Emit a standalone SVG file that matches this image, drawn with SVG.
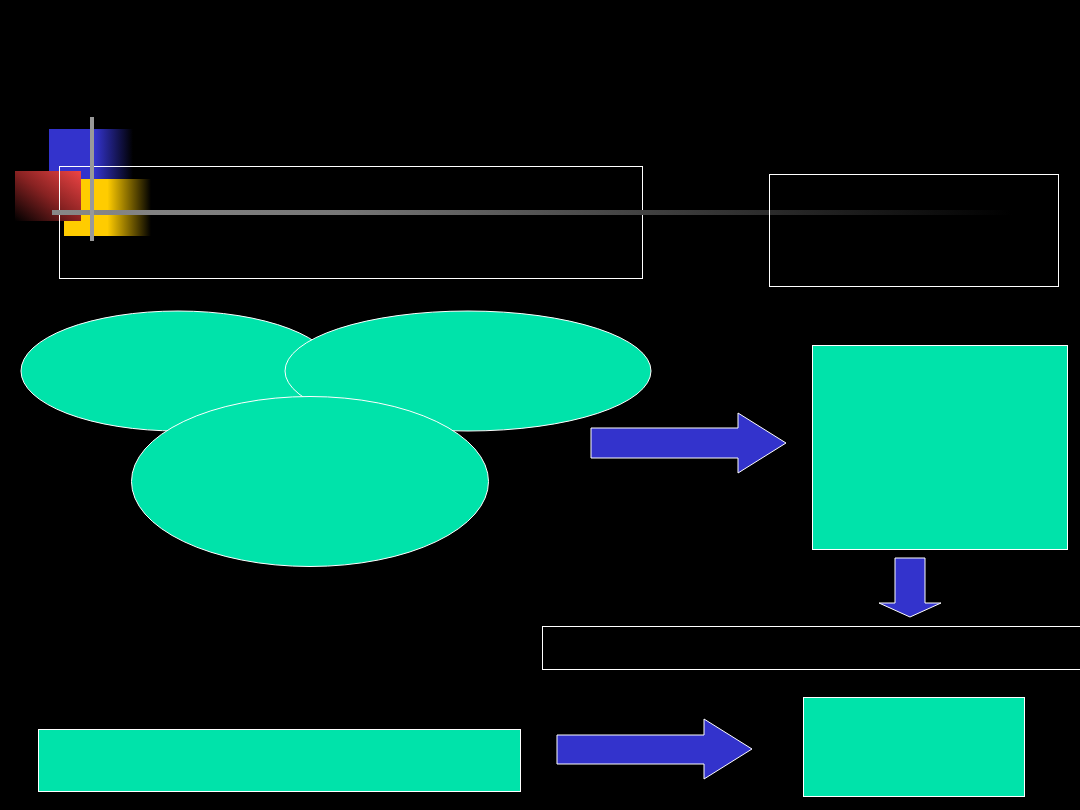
<svg xmlns="http://www.w3.org/2000/svg" width="1080" height="810" viewBox="0 0 1080 810">
<style>
.box{fill:none;stroke:#ffffff;stroke-width:1}
.shape{fill:#00E3AA;stroke:#ffffff;stroke-width:1}
.arrow{fill:#3333CC;stroke:#ffffff;stroke-width:1}
</style>
<defs>
<linearGradient id="gBlue" x1="0" y1="0" x2="1" y2="0">
<stop offset="0" stop-color="#3333CC"/><stop offset="0.55" stop-color="#3333CC"/><stop offset="1" stop-color="#000000"/>
</linearGradient>
<linearGradient id="gYellow" x1="0" y1="0" x2="1" y2="0">
<stop offset="0" stop-color="#FFCC00"/><stop offset="0.5" stop-color="#FFCC00"/><stop offset="1" stop-color="#000000"/>
</linearGradient>
<linearGradient id="gRed" x1="1" y1="0" x2="0" y2="1">
<stop offset="0" stop-color="#EE4444"/><stop offset="0.5" stop-color="#882222"/><stop offset="1" stop-color="#000000"/>
</linearGradient>
<linearGradient id="gLine" x1="0" y1="0" x2="1" y2="0">
<stop offset="0" stop-color="#888888"/><stop offset="0.3" stop-color="#777777"/><stop offset="1" stop-color="#000000"/>
</linearGradient>
</defs>
<rect width="1080" height="810" fill="#000000"/>
<g id="decor">
<rect x="49" y="129" width="84" height="50" fill="url(#gBlue)"/>
<rect x="64" y="179" width="87" height="57" fill="url(#gYellow)"/>
<rect x="15" y="171" width="66" height="50" fill="url(#gRed)"/>
</g>
<g id="title-box"><rect class="box" x="59.5" y="166.5" width="583" height="112"/></g>
<g id="decor-lines">
<rect x="52" y="210" width="960" height="5" fill="url(#gLine)"/>
<rect x="90" y="117" width="4" height="124" fill="#999999"/>
</g>
<g id="right-box"><rect class="box" x="769.5" y="174.5" width="289" height="112"/></g>
<g id="ellipse1"><ellipse class="shape" cx="178" cy="371" rx="157" ry="60"/></g>
<g id="ellipse2"><ellipse class="shape" cx="468" cy="371" rx="183" ry="60"/></g>
<g id="ellipse3"><ellipse class="shape" cx="310" cy="481.5" rx="178.5" ry="85"/></g>
<g id="green-box1"><rect class="shape" x="812.5" y="345.5" width="255" height="204"/></g>
<g id="wide-box"><rect class="box" x="542.5" y="626.5" width="540" height="43"/></g>
<g id="green-box2"><rect class="shape" x="38.5" y="729.5" width="482" height="62"/></g>
<g id="green-box3"><rect class="shape" x="803.5" y="697.5" width="221" height="99"/></g>
<g id="connectors">
<polygon class="arrow" points="591,428 738,428 738,413 786,443 738,473 738,458 591,458"/>
<polygon class="arrow" points="895,558 925,558 925,603 941,603 910,617 879,603 895,603"/>
<polygon class="arrow" points="557,735 704,735 704,719 752,749 704,779 704,764 557,764"/>
</g>
</svg>
